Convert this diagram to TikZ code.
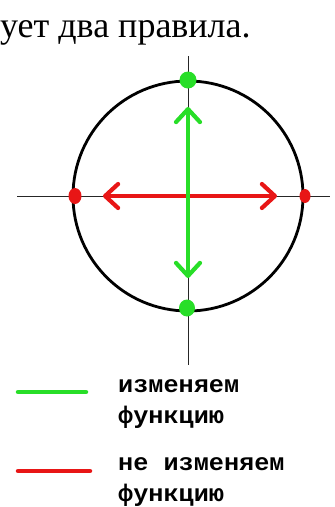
\documentclass[tikz,border=0pt]{standalone}
\usepackage{fontspec}
\setmainfont{Liberation Serif}
\newfontfamily\legfont[FakeStretch=1.05]{Liberation Mono}
\usetikzlibrary{arrows.meta,positioning,shapes.geometric}
\definecolor{funcgreen}{RGB}{40,222,40}
\definecolor{funcred}{RGB}{232,22,22}

\begin{document}
\begin{tikzpicture}[x=1pt,y=-1pt,
 axis/.style={line width=0.9pt,black!85},
 rim/.style={line width=2.8pt},
 move/.style={line width=4.2pt,{Straight Barb[length=13pt,width=24pt,round]}-{Straight Barb[length=13pt,width=24pt,round]}},
 pt/.style={ellipse,inner sep=0pt,minimum width=13pt,minimum height=16pt},
 key/.style={line width=4.5pt,line cap=round},
 lab/.style={font=\legfont\bfseries\fontsize{24}{31}\selectfont,align=left,anchor=north west,inner sep=0pt}]
\useasboundingbox (0,0) rectangle (335,507);
\node[anchor=base west,inner sep=0pt,font=\fontsize{36}{40}\selectfont] (head) at (0,37) {ует два правила.};
\coordinate (o) at (188,196);
\coordinate (xl) at (17,196); \coordinate (xr) at (330,196);
\coordinate (yt) at (188,56); \coordinate (yb) at (188,365);
\draw[axis] (xl) -- (xr);
\draw[axis] (yt) -- (yb);
\draw[rim] (o) circle[radius=115];
\coordinate (rl) at (103,196); \coordinate (rr) at (277,196);
\coordinate (gt) at (188,107); \coordinate (gb) at (188,278);
\draw[move,funcred] (rl) -- (rr);
\draw[move,funcgreen] (gt) -- (gb);
\node[pt,fill=funcred] (pl) at (75,196) {};
\node[pt,fill=funcred,minimum width=11pt,minimum height=14pt] (pr) at (305,196) {};
\node[pt,fill=funcgreen,minimum width=17pt,minimum height=17pt] (pt1) at (188,80) {};
\node[pt,fill=funcgreen,minimum width=16pt,minimum height=17pt] (pb) at (187,308) {};
\coordinate (k1a) at (18,392); \coordinate (k1b) at (86,392);
\coordinate (k2a) at (18,471); \coordinate (k2b) at (90,471);
\draw[key,funcgreen] (k1a) -- (k1b);
\draw[key,funcred] (k2a) -- (k2b);
\node[lab] (t1) at (118,379) {изменяем\\функцию};
\node[lab] (t2) at (118,457) {не изменяем\\функцию};
\end{tikzpicture}
\end{document}
